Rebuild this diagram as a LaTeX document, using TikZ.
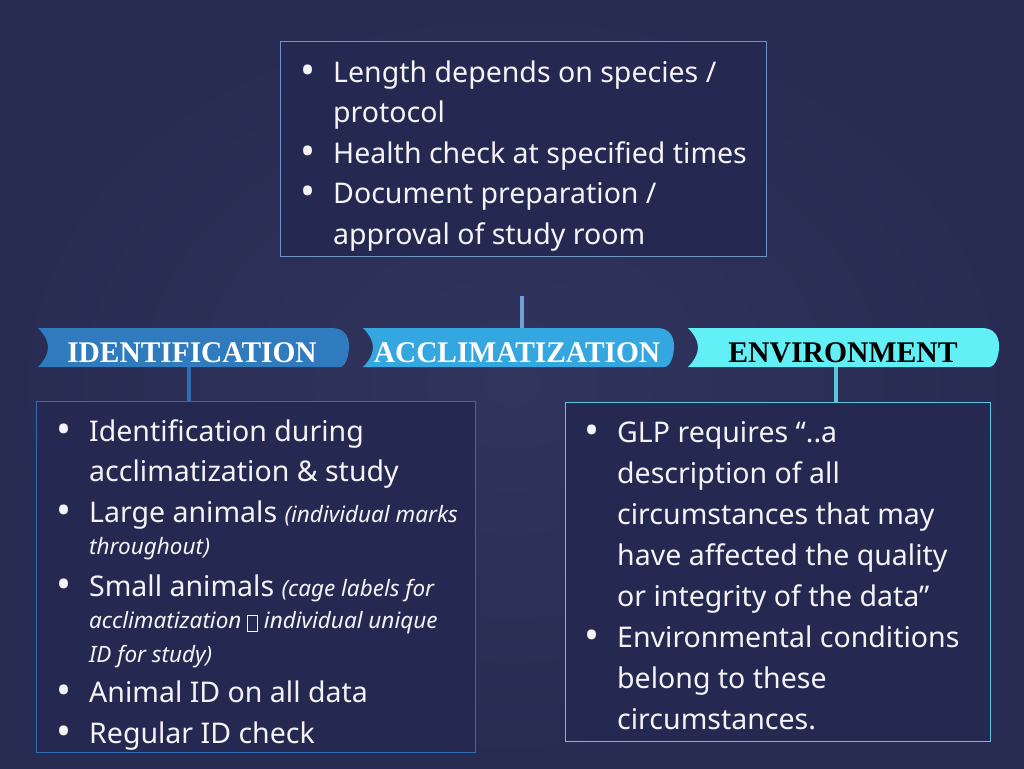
\documentclass[tikz,border=0pt]{standalone}
\usepackage{fontspec}
\setmainfont{Noto Sans}
\newfontfamily\bannerfont{Liberation Serif}
\usetikzlibrary{calc}
\definecolor{bgIn}{HTML}{31355E}
\definecolor{bgOut}{HTML}{282B52}
\definecolor{boxfill}{HTML}{252850}
\definecolor{txtc}{HTML}{F4F4F6}
\definecolor{topline}{HTML}{6F94C4}
\definecolor{idcol}{HTML}{2F7BBE}
\definecolor{accol}{HTML}{35A7E0}
\definecolor{envcol}{HTML}{62F0F6}
\definecolor{idline}{HTML}{2F6DB2}
\definecolor{envline}{HTML}{5CC6DE}
\definecolor{topstub}{HTML}{6FA0D8}
\newcommand\mybul{\llap{\raisebox{-2.5pt}{\fontsize{40}{40}\selectfont•}\hspace{18pt}}}
\newcommand\tofu{\raisebox{-3pt}{\setlength{\fboxsep}{0pt}\setlength{\fboxrule}{0.9pt}\fbox{\rule{0pt}{15pt}\hspace{9pt}}}}
\begin{document}
\begin{tikzpicture}[x=1pt,y=-1pt,
  box/.style={draw, line width=1pt, fill=boxfill, anchor=north west, inner sep=0pt},
  txt/.style={anchor=base west, inner sep=0pt, text=txtc, font=\fontsize{28.5}{34}\selectfont},
  sm/.style={font=\fontsize{22.5}{26}\selectfont\itshape},
  bantxt/.style={inner sep=0pt, anchor=base, font=\bannerfont\bfseries\fontsize{30}{34}\selectfont},
  stub/.style={line width=3.5pt}]
\useasboundingbox (0,0) rectangle (1024,768);
\shade[inner color=bgIn, outer color=bgOut] (0,0) rectangle (1024,768);

% boxes
\node[box, draw=topline, minimum width=486pt, minimum height=215pt] (top) at (280,41) {};
\node[box, draw=idline, minimum width=439pt, minimum height=351pt] (lbox) at (36,401) {};
\node[box, draw=envline, minimum width=425pt, minimum height=339pt] (rbox) at (565,402) {};

% banners
\fill[idcol] (38,328) -- (332,328) .. controls (344,328) and (349,336) .. (349,346)
  .. controls (349,357) and (345,367) .. (340,367) -- (38,367)
  .. controls (45,360) and (48,353) .. (48,347.5) .. controls (48,342) and (45,335) .. (38,328) -- cycle;
\fill[accol] (363,328) -- (657,328) .. controls (669,328) and (674,336) .. (674,346)
  .. controls (674,357) and (670,367) .. (664,367) -- (363,367)
  .. controls (370,360) and (373,353) .. (373,347.5) .. controls (373,342) and (370,335) .. (363,328) -- cycle;
\fill[envcol] (688,328) -- (982,328) .. controls (994,328) and (999,336) .. (999,346)
  .. controls (999,357) and (995,367) .. (989,367) -- (688,367)
  .. controls (695,360) and (698,353) .. (698,347.5) .. controls (698,342) and (695,335) .. (688,328) -- cycle;
\node[bantxt, text=white] (idb) at (192,362) {\scalebox{0.98}[1]{IDENTIFICATION}};
\node[bantxt, text=white] (acb) at (517,362) {\scalebox{0.98}[1]{ACCLIMATIZATION}};
\node[bantxt, text=black] (envb) at (843,362) {\scalebox{0.99}[1]{ENVIRONMENT}};

% stubs
\coordinate (ts) at (522,296);
\coordinate (tb) at (522,328);
\draw[stub, topstub] (ts) -- (tb);
\coordinate (ls) at (189,367);
\draw[stub, idline] (ls) -- (ls |- lbox.north);
\coordinate (rs) at (836,367);
\draw[stub, envline] (rs) -- (rs |- rbox.north);

% top box text
\node[txt] (t1) at (333,82) {\mybul Length depends on species /};
\node[txt] (t2) at (333,122) {protocol};
\node[txt] (t3) at (333,163) {\mybul Health check at specified times};
\node[txt] (t4) at (333,203) {\mybul Document preparation /};
\node[txt] (t5) at (333,244) {approval of study room};

% left box text
\node[txt] (l1) at (89,441) {\mybul Identification during};
\node[txt] (l2) at (89,481) {acclimatization \& study};
\node[txt] (l3) at (89,522) {\mybul Large animals {\fontsize{22.5}{26}\selectfont\itshape (individual marks}};
\node[txt, sm] (l4) at (89,554) {throughout)};
\node[txt] (l5) at (89,596) {\mybul Small animals {\fontsize{22.5}{26}\selectfont\itshape (cage labels for}};
\node[txt, sm] (l6) at (89,628) {acclimatization \tofu\ individual unique};
\node[txt, sm] (l7) at (89,662) {ID for study)};
\node[txt] (l8) at (89,702) {\mybul Animal ID on all data};
\node[txt] (l9) at (89,743) {\mybul Regular ID check};

% right box text
\node[txt] (r1) at (617,442) {\mybul GLP requires “..a};
\node[txt] (r2) at (617,483) {description of all};
\node[txt] (r3) at (617,524) {circumstances that may};
\node[txt] (r4) at (617,565) {have affected the quality};
\node[txt] (r5) at (617,606) {or integrity of the data”};
\node[txt] (r6) at (617,647) {\mybul Environmental conditions};
\node[txt] (r7) at (617,688) {belong to these};
\node[txt] (r8) at (617,729) {circumstances.};
\end{tikzpicture}
\end{document}
